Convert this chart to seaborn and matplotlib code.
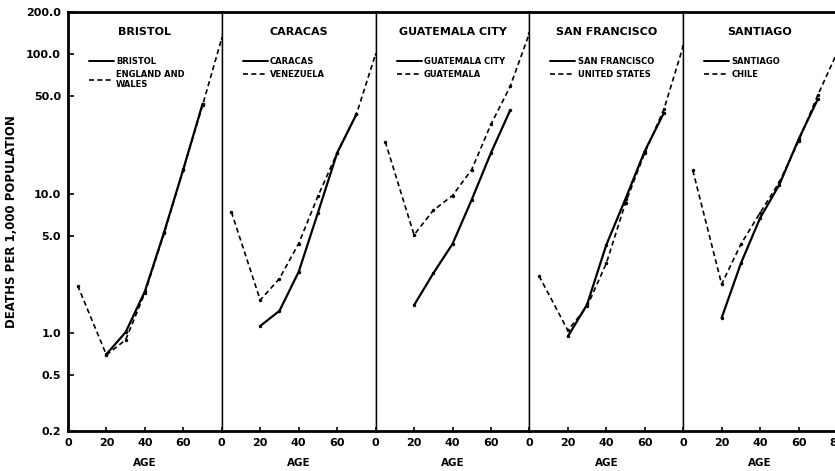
import pandas as pd
import seaborn as sns
import matplotlib.pyplot as plt
from matplotlib.lines import Line2D
from matplotlib.ticker import FixedLocator, FixedFormatter, NullLocator

# ages of the plotted points
edades_pais = [5, 20, 30, 40, 50, 60, 70, 80]
edades_ciudad = [20, 30, 40, 50, 60, 70]

paneles = ["BRISTOL", "CARACAS", "GUATEMALA CITY", "SAN FRANCISCO", "SANTIAGO"]
ciudades = ["BRISTOL", "CARACAS", "GUATEMALA CITY", "SAN FRANCISCO", "SANTIAGO"]
paises = ["ENGLAND AND\nWALES", "VENEZUELA", "GUATEMALA", "UNITED STATES", "CHILE"]

bristol = [0.71, 1.02, 2.0, 5.3, 15.0, 44.0]
england = [2.2, 0.70, 0.90, 1.95, 5.2, 14.9, 43.0, 130.0]
caracas = [1.13, 1.45, 2.76, 7.3, 19.6, 37.0]
venezuela = [7.4, 1.73, 2.47, 4.4, 9.6, 19.6, 37.0, 100.0]
guate_city = [1.59, 2.69, 4.37, 9.06, 19.6, 39.6]
guatemala = [23.6, 5.07, 7.6, 9.7, 14.9, 31.4, 58.6, 141.0]
san_francisco = [0.95, 1.61, 4.3, 9.2, 20.2, 38.0]
usa = [2.58, 1.05, 1.56, 3.17, 8.6, 19.6, 40.3, 114.0]
santiago = [1.29, 3.17, 6.7, 11.6, 24.5, 47.5]
chile = [14.7, 2.25, 4.35, 7.3, 12.1, 23.8, 50.8, 102.0]

valores_ciudad = [bristol, caracas, guate_city, san_francisco, santiago]
valores_pais = [england, venezuela, guatemala, usa, chile]

yticks = [0.2, 0.5, 1.0, 5.0, 10.0, 50.0, 100.0, 200.0]

filas = []
for i, panel in enumerate(paneles):
    for edad, v in zip(edades_ciudad, valores_ciudad[i]):
        filas.append((panel, "ciudad", edad, v))
    for edad, v in zip(edades_pais, valores_pais[i]):
        filas.append((panel, "pais", edad, v))
df = pd.DataFrame(filas, columns=("panel", "tipo", "edad", "tasa"))

sns.set_style("ticks")
plt.rcParams["font.family"] = ["Liberation Sans Narrow", "DejaVu Sans"]
plt.rcParams["font.weight"] = "bold"
plt.rcParams["text.color"] = "black"
plt.rcParams["axes.labelcolor"] = "black"

fig, axes = plt.subplots(1, 5, figsize=(8.35, 4.71), dpi=100, sharey=True)
fig.subplots_adjust(left=68 / 835, right=837 / 835, top=1 - 12 / 471,
                    bottom=1 - 431 / 471, wspace=0)

for i, ax in enumerate(axes):
    sub = df[df["panel"] == paneles[i]]
    sns.lineplot(data=sub[sub["tipo"] == "ciudad"], x="edad", y="tasa", ax=ax,
                 color="black", lw=1.6, marker="o", markersize=2.5,
                 markeredgewidth=0)
    sns.lineplot(data=sub[sub["tipo"] == "pais"], x="edad", y="tasa", ax=ax,
                 color="black", lw=1.2, dashes=(3, 2), marker="o",
                 markersize=2.5, markeredgewidth=0)
    ax.set_yscale("log")
    ax.set_ylim(0.2, 200)
    ax.set_xlim(0, 80)
    ax.yaxis.set_major_locator(FixedLocator(yticks))
    ax.yaxis.set_major_formatter(FixedFormatter([f"{t:.1f}" for t in yticks]))
    ax.yaxis.set_minor_locator(NullLocator())
    if i < 4:
        ax.set_xticks([0, 20, 40, 60])
    else:
        ax.set_xticks([0, 20, 40, 60, 80])
    ax.tick_params(direction="in", length=3, width=1.2, labelsize=8,
                   colors="black", pad=5)
    if i == 0:
        ax.tick_params(axis="y", length=4, pad=5)
    else:
        ax.tick_params(axis="y", length=0, left=False, right=False)
    for lab in ax.get_xticklabels() + ax.get_yticklabels():
        lab.set_fontweight("bold")
    ax.set_xlabel("AGE", fontsize=7.5, fontweight="bold", labelpad=7)
    ax.set_ylabel("")
    for lado, sp in ax.spines.items():
        sp.set_visible(True)
        sp.set_color("black")
        sp.set_linewidth(2.0 if lado in ("top", "bottom") else 1.0)
    if i == 0:
        ax.spines["left"].set_linewidth(2.0)
    ax.text(0.5, 0.953, paneles[i], transform=ax.transAxes, ha="center",
            va="center", fontsize=8, fontweight="bold", color="black")
    manejadores = [
        Line2D([0], [0], color="black", lw=1.4),
        Line2D([0], [0], color="black", lw=1.2, dashes=(3, 2)),
    ]
    leyenda = ax.legend(manejadores, [ciudades[i], paises[i]], loc="upper left",
                        bbox_to_anchor=(0.115, 0.9), frameon=False,
                        handlelength=3.0, handletextpad=0.25, labelspacing=0.45,
                        borderaxespad=0, prop={"weight": "bold", "size": 6})
    for t in leyenda.get_texts():
        t.set_color("black")

axes[0].set_ylabel("DEATHS PER 1,000 POPULATION", fontsize=8.5,
                   fontweight="bold")
axes[0].yaxis.set_label_coords(-(68 - 18) / 154, 0.5)

fig.savefig("out.png", dpi=100)
